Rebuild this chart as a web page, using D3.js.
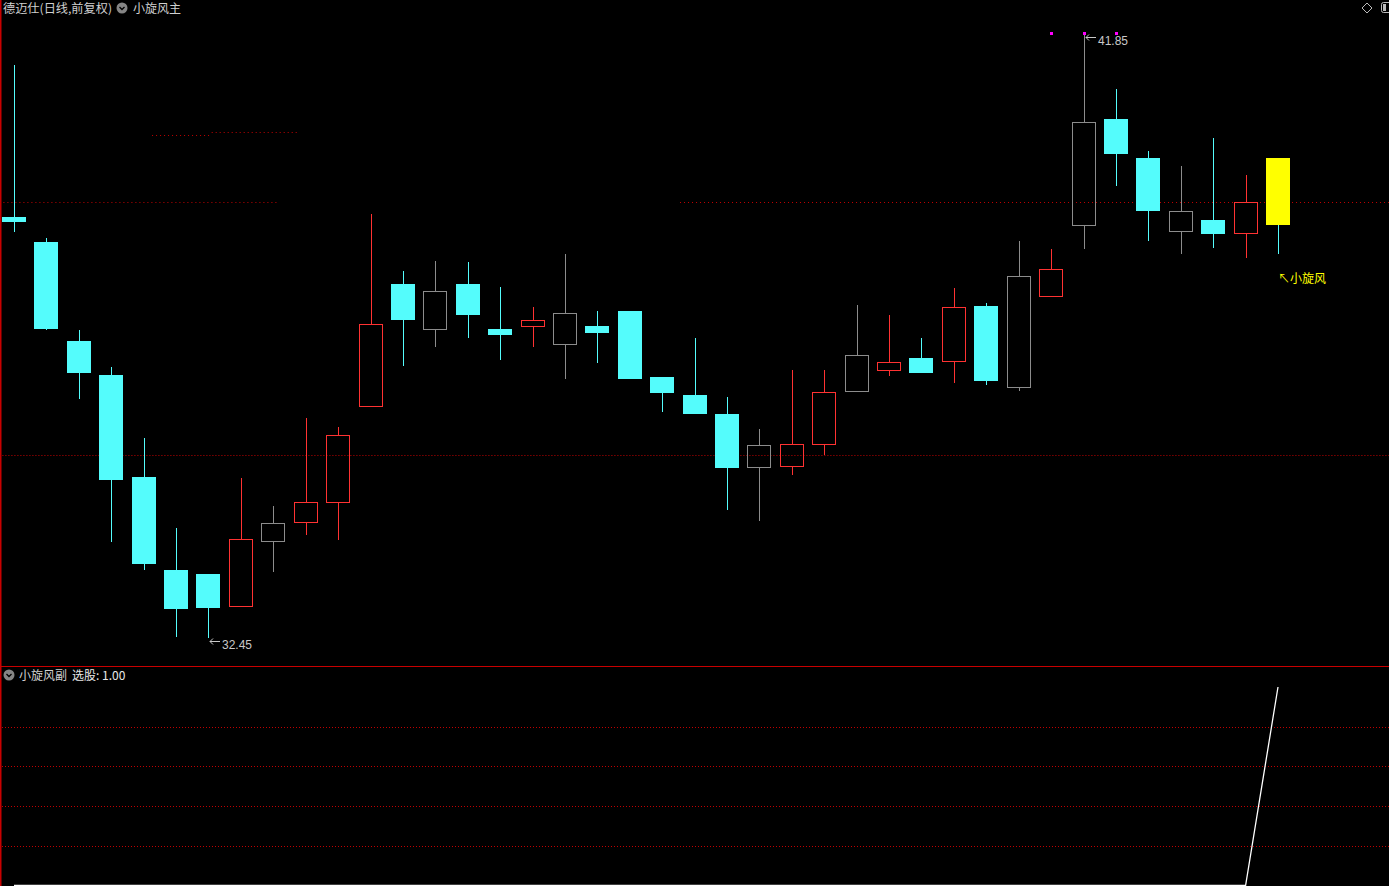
<!DOCTYPE html>
<html>
<head>
<meta charset="utf-8">
<script src="https://cdn.jsdelivr.net/npm/d3@7"></script>
<style>
body { margin: 0; background: #000; overflow: hidden; }
svg { display: block; }
text { font-family: "Noto Sans CJK SC", "Liberation Sans", sans-serif; }
</style>
</head>
<body>
<svg id="chart"></svg>
<script>
// daily bars, 德迈仕 (前复权)
const open  = [38.99, 38.60, 37.06, 36.54, 34.95, 33.51, 33.44, 32.95, 33.96, 34.25,
               34.56, 36.05, 37.95, 37.25, 37.95, 37.25, 37.30, 37.02, 37.30, 37.53,
               36.50, 36.23, 35.93, 35.11, 35.12, 35.46, 36.29, 36.61, 36.80, 36.75,
               37.61, 36.35, 37.76, 38.87, 40.51, 39.91, 38.77, 38.94, 38.74, 39.91];
const high  = [41.35, 38.66, 37.24, 36.66, 35.56, 34.16, 33.44, 34.94, 34.50, 35.87,
               35.73, 39.04, 38.15, 38.31, 38.29, 37.90, 37.59, 38.42, 37.53, 37.53,
               36.50, 37.11, 36.19, 35.70, 36.61, 36.61, 37.62, 37.47, 37.11, 37.89,
               37.65, 38.62, 38.49, 41.85, 40.98, 40.02, 39.78, 40.22, 39.64, 39.91];
const low   = [38.76, 37.24, 36.16, 33.94, 33.51, 32.47, 32.45, 32.95, 33.48, 34.05,
               33.97, 36.05, 36.68, 36.97, 37.11, 36.77, 36.97, 36.47, 36.72, 36.49,
               35.96, 35.95, 34.44, 34.27, 34.98, 35.29, 36.29, 36.52, 36.58, 36.41,
               36.38, 36.29, 37.76, 38.49, 39.47, 38.62, 38.42, 38.51, 38.35, 38.42];
const close = [38.93, 37.27, 36.58, 34.92, 33.61, 32.92, 32.93, 33.99, 34.24, 34.56,
               35.60, 37.33, 37.41, 37.84, 37.48, 37.17, 37.39, 37.50, 37.20, 36.49,
               36.27, 35.95, 35.11, 35.45, 35.46, 36.27, 36.85, 36.74, 36.58, 37.59,
               36.46, 38.07, 38.18, 40.47, 39.99, 39.10, 39.08, 38.74, 39.22, 38.88];
// bars the indicator paints grey, the signal bar, and the top markers
const greyBars = [8, 13, 17, 23, 26, 31, 33, 36];
const signalBar = 39;
const topMarks = [32, 33, 34];
// dotted levels: price, from bar, to bar
const levels = [
  { price: 40.31, from: 6.1, to: 8.8, gap: 4 },
  { price: 40.27, from: 4.26, to: 6.1, gap: 4 },
  { price: 39.22, from: -0.45, to: 8.1, gap: 4 },
  { price: 39.22, from: 20.55, to: 42.5, gap: 4 },
  { price: 35.29, from: -0.45, to: 42.5, gap: 3 }
];
// 选股 signal in the lower pane
const pick = [0, 0, 0, 0, 0, 0, 0, 0, 0, 0, 0, 0, 0, 0, 0, 0, 0, 0, 0, 0,
              0, 0, 0, 0, 0, 0, 0, 0, 0, 0, 0, 0, 0, 0, 0, 0, 0, 0, 0, 1];
const subTicks = [0.2, 0.4, 0.6, 0.8];

const W = 1389, H = 886;
const CYAN = "#54fcfc", RED = "#ff3232", GREY = "#8c8c8c", YEL = "#ffff00";
const svg = d3.select("#chart").attr("width", W).attr("height", H)
  .style("background", "#000");

const x = d3.scaleLinear().domain([0, 39]).range([14, 1278]);
const y = d3.scaleLinear().domain([32.45, 41.85]).range([638, 33]);
const ySub = d3.scaleLinear().domain([0, 1]).range([885.5, 687]);
const bodyW = 24;
const px = v => Math.round(v) + 0.5;

// frame
svg.append("line").attr("x1", 0.5).attr("x2", 0.5).attr("y1", 0).attr("y2", H)
  .attr("stroke", "#c80000").attr("stroke-width", 2);
svg.append("line").attr("x1", 0).attr("x2", W).attr("y1", 666.5).attr("y2", 666.5)
  .attr("stroke", "#c80000");

// dotted levels
svg.selectAll(".level").data(levels).enter().append("line")
  .attr("class", "level")
  .attr("x1", d => x(d.from)).attr("x2", d => Math.min(W, x(d.to)))
  .attr("y1", d => px(y(d.price))).attr("y2", d => px(y(d.price)))
  .attr("stroke", "#c00000").attr("stroke-dasharray", d => `1,${d.gap - 1}`);

// candles
const bars = d3.range(open.length).map(i => {
  let kind = close[i] > open[i] ? "up" : "down";
  if (greyBars.includes(i)) kind = "grey";
  if (i === signalBar) kind = "signal";
  return { i, o: open[i], h: high[i], l: low[i], c: close[i], kind };
});
const colorOf = k => k === "up" ? RED : k === "grey" ? GREY : k === "signal" ? YEL : CYAN;
const wickColor = k => k === "signal" ? CYAN : colorOf(k);

const g = svg.append("g").attr("shape-rendering", "crispEdges");
bars.forEach(d => {
  const cx = px(x(d.i));
  const top = Math.round(y(Math.max(d.o, d.c)));
  const bot = Math.round(y(Math.min(d.o, d.c)));
  const hollow = d.kind === "up" || d.kind === "grey";
  g.append("line").attr("x1", cx).attr("x2", cx)
    .attr("y1", y(d.h)).attr("y2", top)
    .attr("stroke", wickColor(d.kind));
  g.append("line").attr("x1", cx).attr("x2", cx)
    .attr("y1", bot).attr("y2", y(d.l))
    .attr("stroke", wickColor(d.kind));
  const left = Math.round(x(d.i) - bodyW / 2);
  if (hollow) {
    g.append("rect").attr("x", left + 0.5).attr("y", top + 0.5)
      .attr("width", bodyW - 1).attr("height", Math.max(1, bot - top))
      .attr("fill", "none").attr("stroke", colorOf(d.kind));
  } else {
    g.append("rect").attr("x", left).attr("y", top)
      .attr("width", bodyW).attr("height", Math.max(2, bot - top + 1))
      .attr("fill", colorOf(d.kind));
  }
});

// high / low labels: small arrow, then the price
function priceTag(bx, by, value) {
  const ax = Math.round(bx) + 1, ay = Math.round(by) + 5.5;
  svg.append("path")
    .attr("d", `M${ax + 11},${ay}H${ax + 1}M${ax + 4},${ay - 3}L${ax + 1},${ay}L${ax + 4},${ay + 3}`)
    .attr("fill", "none").attr("stroke", "#c8c8c8");
  svg.append("text").attr("x", ax + 13).attr("y", ay + 7)
    .attr("fill", "#c8c8c8").attr("font-size", 12)
    .style("font-family", "'Liberation Sans', sans-serif")
    .text(value.toFixed(2));
}
const hiMax = d3.max(high);
const iHi = high.indexOf(hiMax), loMin = d3.min(low), iLo = low.indexOf(loMin);
priceTag(x(iHi), y(hiMax) - 1, hiMax);
priceTag(x(iLo), y(loMin) - 2, loMin);
svg.append("text").attr("x", x(signalBar)).attr("y", y(low[signalBar]) + 29)
  .attr("fill", YEL).attr("font-size", 12).text("↖小旋风");

// top markers
svg.selectAll(".mark").data(topMarks).enter().append("rect")
  .attr("x", d => Math.round(x(d)) - 1).attr("y", Math.round(y(hiMax)) - 1)
  .attr("width", 3).attr("height", 3).attr("fill", "#ff00ff");

// lower pane
svg.selectAll(".subgrid").data(subTicks).enter().append("line")
  .attr("x1", 2).attr("x2", W)
  .attr("y1", d => px(ySub(d))).attr("y2", d => px(ySub(d)))
  .attr("stroke", "#c00000").attr("stroke-dasharray", "1,2");
svg.append("path").datum(pick)
  .attr("d", d3.line().x((d, i) => x(i)).y(d => ySub(d)))
  .attr("fill", "none").attr("stroke", "#fff").attr("stroke-width", 1.3);

// header
function chevron(cx, cy) {
  svg.append("circle").attr("cx", cx).attr("cy", cy).attr("r", 5.5).attr("fill", "#858585");
  svg.append("path").attr("d", `M${cx - 2.5},${cy - 1}L${cx},${cy + 1.5}L${cx + 2.5},${cy - 1}`)
    .attr("fill", "none").attr("stroke", "#000").attr("stroke-width", 1.3);
}
svg.append("text").attr("x", 3).attr("y", 13).attr("fill", "#d0d0d0")
  .attr("font-size", 12).attr("textLength", 109).attr("lengthAdjust", "spacingAndGlyphs")
  .text("德迈仕(日线,前复权)");
chevron(122, 8);
svg.append("text").attr("x", 133).attr("y", 13).attr("fill", "#d0d0d0")
  .attr("font-size", 12).text("小旋风主");
svg.append("path").attr("d", "M1367,3L1372,8L1367,13L1362,8Z")
  .attr("fill", "none").attr("stroke", "#bbb");
svg.append("rect").attr("x", 1381.5).attr("y", 2.5).attr("width", 10).attr("height", 10)
  .attr("rx", 2).attr("fill", "none").attr("stroke", "#bbb");
svg.append("rect").attr("x", 1383).attr("y", 4).attr("width", 3).attr("height", 7).attr("fill", "#bbb");

chevron(9, 675);
svg.append("text").attr("x", 19).attr("y", 680).attr("fill", "#d0d0d0")
  .attr("font-size", 12).text("小旋风副");
svg.append("text").attr("x", 72).attr("y", 680).attr("fill", "#e8e8e8")
  .attr("font-size", 12).text("选股: " + pick[pick.length - 1].toFixed(2));
</script>
</body>
</html>
